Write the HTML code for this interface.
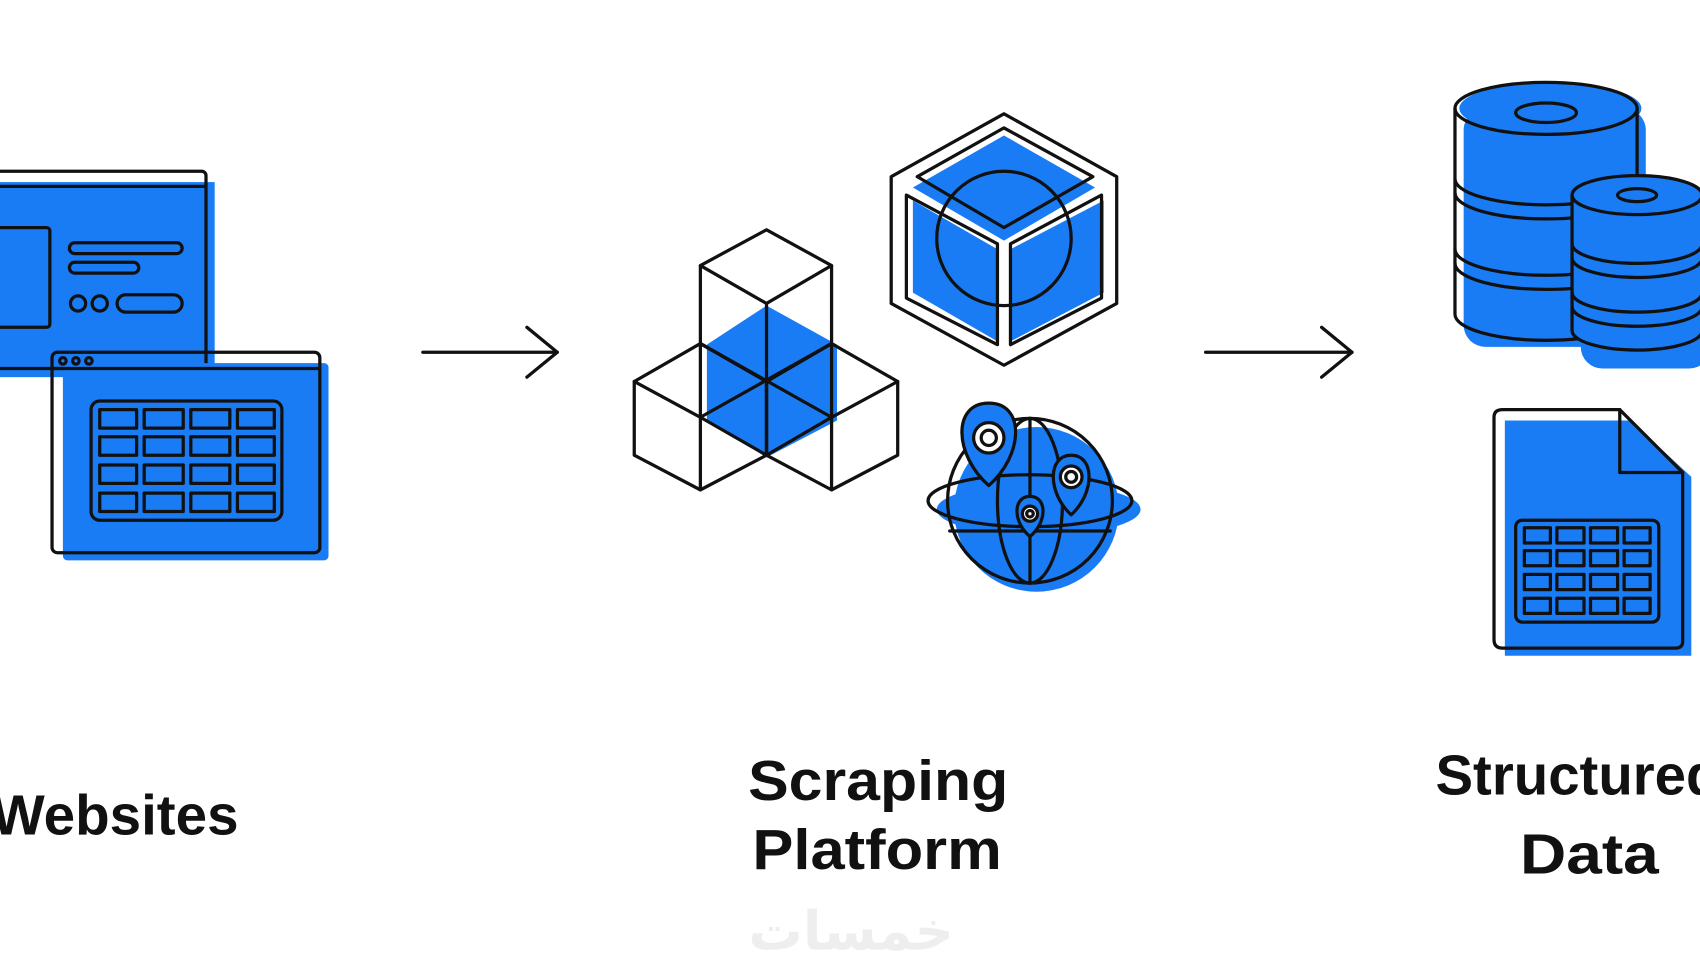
<!DOCTYPE html>
<html><head><meta charset="utf-8"><style>
html,body{margin:0;padding:0;background:#fff;overflow:hidden}
svg{display:block}
text{font-family:"Liberation Sans",sans-serif;font-weight:bold;fill:#111}
</style></head><body>
<svg width="1700" height="970" viewBox="0 0 1568 895" preserveAspectRatio="none" xmlns="http://www.w3.org/2000/svg">
<g stroke="#111" stroke-width="3" stroke-linecap="round" stroke-linejoin="round">
<rect x="-10" y="168" width="208" height="180" fill="#1a7cf5" stroke="none"/>
<rect x="-10" y="158" width="200" height="182" rx="4" fill="none"/>
<line x1="-10" y1="172" x2="190" y2="172"/>
<rect x="-10" y="210" width="56" height="92" rx="3" fill="none"/>
<rect x="64" y="224" width="104" height="10" rx="5" fill="none"/>
<rect x="64" y="242" width="64" height="10" rx="5" fill="none"/>
<circle cx="72" cy="280" r="7" fill="none"/><circle cx="92" cy="280" r="7" fill="none"/>
<rect x="108" y="272" width="60" height="16" rx="8" fill="none"/>
<rect x="58" y="335" width="245" height="182" rx="4" fill="#1a7cf5" stroke="none"/>
<rect x="48" y="325" width="247" height="185" rx="5" fill="none"/>
<line x1="48" y1="340" x2="295" y2="340"/>
<circle cx="58" cy="333" r="3" fill="none"/><circle cx="70" cy="333" r="3" fill="none"/><circle cx="82" cy="333" r="3" fill="none"/>
<rect x="84" y="370" width="176" height="110" rx="8" fill="none"/>
<g fill="none">
<rect x="92" y="378" width="34" height="17"/><rect x="133" y="378" width="36" height="17"/><rect x="176" y="378" width="36" height="17"/><rect x="219" y="378" width="34" height="17"/>
<rect x="92" y="403" width="34" height="17"/><rect x="133" y="403" width="36" height="17"/><rect x="176" y="403" width="36" height="17"/><rect x="219" y="403" width="34" height="17"/>
<rect x="92" y="429" width="34" height="17"/><rect x="133" y="429" width="36" height="17"/><rect x="176" y="429" width="36" height="17"/><rect x="219" y="429" width="34" height="17"/>
<rect x="92" y="455" width="34" height="17"/><rect x="133" y="455" width="36" height="17"/><rect x="176" y="455" width="36" height="17"/><rect x="219" y="455" width="34" height="17"/>
</g>
<line x1="390" y1="325" x2="514" y2="325"/><polyline points="486,302 514,325 486,348" fill="none"/>
<line x1="1112" y1="325" x2="1247" y2="325"/><polyline points="1219,302 1247,325 1219,348" fill="none"/>
<polygon points="707,282 772,318 772,388 707,422 652,388 652,318" fill="#1a7cf5" stroke="none"/>
<g fill="none">
<polygon points="707,212 767,245 767,385 707,420 646,385 646,245"/>
<polyline points="646,245 707,280 767,245"/><line x1="707" y1="280" x2="707" y2="420"/>
<polyline points="646,317 707,352 767,317"/>
<polygon points="585,352 646,317 707,352 707,420 646,452 585,420"/>
<polygon points="707,352 767,317 828,352 828,420 767,452 707,420"/>
<line x1="646" y1="385" x2="646" y2="452"/><line x1="767" y1="385" x2="767" y2="452"/>
<line x1="646" y1="385" x2="767" y2="317"/><line x1="646" y1="317" x2="767" y2="385"/>
<line x1="585" y1="352" x2="646" y2="385"/><line x1="828" y1="352" x2="767" y2="385"/>
</g>
<polygon points="926,125 1010,173 926,222 842,173" fill="#1a7cf5" stroke="none"/>
<polygon points="842,185 920,230 920,315 842,270" fill="#1a7cf5" stroke="none"/>
<polygon points="932,230 1018,185 1018,270 932,315" fill="#1a7cf5" stroke="none"/>
<g fill="none">
<polygon points="926,105 1030,163 1030,280 926,337 822,280 822,163"/>
<polygon points="926,118 1008,163 926,210 846,163"/>
<polygon points="836,180 920,225 920,318 836,275"/>
<polygon points="932,225 1016,180 1016,275 932,318"/>
<circle cx="926" cy="220" r="62"/>
</g>
<circle cx="956" cy="470" r="76" fill="#1a7cf5" stroke="none"/>
<ellipse cx="958" cy="470" rx="94" ry="24" fill="#1a7cf5" stroke="none"/>
<g fill="none">
<circle cx="950" cy="462" r="76"/>
<ellipse cx="950" cy="462" rx="94" ry="24"/>
<ellipse cx="950" cy="462" rx="30" ry="76"/>
<line x1="950" y1="386" x2="950" y2="538"/>
<line x1="876" y1="490" x2="1024" y2="490"/>
</g>
<path d="M912,448 C880,420 878,372 912,372 C946,372 944,420 912,448 Z" fill="#1a7cf5"/>
<circle cx="912" cy="404" r="14" fill="#fff"/><circle cx="912" cy="404" r="7" fill="none"/>
<path d="M988,475 C966,455 966,420 988,420 C1010,420 1010,455 988,475 Z" fill="#1a7cf5"/>
<circle cx="988" cy="440" r="10" fill="#fff"/><circle cx="988" cy="440" r="5" fill="none"/>
<path d="M950,495 C934,482 934,458 950,458 C966,458 966,482 950,495 Z" fill="#1a7cf5"/>
<circle cx="950" cy="474" r="7" fill="#fff"/><circle cx="950" cy="474" r="3" fill="none"/>
<rect x="1350" y="100" width="168" height="220" rx="20" fill="#1a7cf5" stroke="none"/>
<ellipse cx="1430" cy="100" rx="84" ry="24" fill="#1a7cf5" stroke="none"/>
<g fill="none">
<ellipse cx="1426" cy="100" rx="84" ry="24"/>
<path d="M1342,100 V290 A84,24 0 0 0 1510,290 V100"/>
<path d="M1342,165 A84,24 0 0 0 1510,165"/><path d="M1342,178 A84,24 0 0 0 1510,178"/>
<path d="M1342,230 A84,24 0 0 0 1510,230"/><path d="M1342,243 A84,24 0 0 0 1510,243"/>
<ellipse cx="1426" cy="104" rx="28" ry="9"/>
</g>
<rect x="1458" y="178" width="120" height="162" rx="20" fill="#1a7cf5" stroke="none"/>
<g fill="#1a7cf5">
<path d="M1450,180 V305 A60,18 0 0 0 1570,305 V180"/>
<ellipse cx="1510" cy="180" rx="60" ry="18"/>
</g>
<g fill="none">
<path d="M1450,225 A60,18 0 0 0 1570,225"/><path d="M1450,238 A60,18 0 0 0 1570,238"/>
<path d="M1450,270 A60,18 0 0 0 1570,270"/><path d="M1450,283 A60,18 0 0 0 1570,283"/>
<ellipse cx="1510" cy="180" rx="18" ry="6"/>
</g>
<path d="M1388,388 H1504 L1560,440 V605 H1388 Z" fill="#1a7cf5" stroke="none"/>
<path d="M1378,385 Q1378,378 1386,378 H1494 L1552,436 V592 Q1552,598 1545,598 H1386 Q1378,598 1378,590 Z" fill="none"/>
<polyline points="1494,378 1494,436 1552,436" fill="none"/>
<rect x="1398" y="480" width="132" height="94" rx="6" fill="none"/>
<g fill="none">
<rect x="1406" y="487" width="24" height="14"/><rect x="1436" y="487" width="25" height="14"/><rect x="1467" y="487" width="25" height="14"/><rect x="1498" y="487" width="24" height="14"/>
<rect x="1406" y="508" width="24" height="14"/><rect x="1436" y="508" width="25" height="14"/><rect x="1467" y="508" width="25" height="14"/><rect x="1498" y="508" width="24" height="14"/>
<rect x="1406" y="530" width="24" height="14"/><rect x="1436" y="530" width="25" height="14"/><rect x="1467" y="530" width="25" height="14"/><rect x="1498" y="530" width="24" height="14"/>
<rect x="1406" y="552" width="24" height="14"/><rect x="1436" y="552" width="25" height="14"/><rect x="1467" y="552" width="25" height="14"/><rect x="1498" y="552" width="24" height="14"/>
</g>
</g>
<text x="-8" y="770" font-size="52" textLength="228" lengthAdjust="spacingAndGlyphs">Websites</text>
<text x="690" y="738" font-size="52" textLength="240" lengthAdjust="spacingAndGlyphs">Scraping</text>
<text x="694" y="802" font-size="52" textLength="230" lengthAdjust="spacingAndGlyphs">Platform</text>
<text x="1324" y="733" font-size="52">Structured</text>
<text x="1402" y="806" font-size="52" textLength="128" lengthAdjust="spacingAndGlyphs">Data</text>
<text x="785" y="876" font-size="50" text-anchor="middle" style="fill:#eee;font-family:'Liberation Sans','DejaVu Sans',sans-serif">خمسات</text>
</svg>
</body></html>
